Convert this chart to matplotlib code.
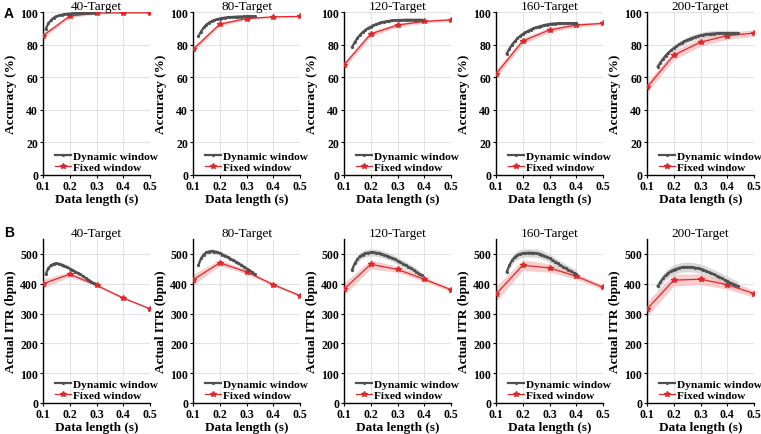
import numpy as np
import matplotlib
matplotlib.use("Agg")
import matplotlib.pyplot as plt

plt.rcParams['font.family'] = ['Liberation Serif', 'DejaVu Serif']

titles = ["40-Target", "80-Target", "120-Target", "160-Target", "200-Target"]
fixed_x = [0.1, 0.2, 0.3, 0.4, 0.5]

# Accuracy (%) - fixed window
acc_fixed_40 = [85.5, 97.5, 99.3, 99.5, 99.5]
acc_fixed_80 = [77.0, 92.5, 96.0, 97.0, 97.3]
acc_fixed_120 = [67.5, 86.5, 92.0, 94.2, 95.2]
acc_fixed_160 = [62.0, 82.2, 89.0, 92.0, 93.0]
acc_fixed_200 = [53.8, 73.5, 81.5, 85.5, 87.0]
acc_fixed_err = [[1.5, 1.0, 0.5, 0.4, 0.4], [1.8, 1.2, 0.8, 0.6, 0.6], [2.0, 1.8, 1.2, 1.0, 0.8],
                 [2.5, 2.0, 1.5, 1.2, 1.0], [3.0, 2.8, 2.5, 2.2, 2.0]]

# Accuracy (%) - dynamic window
dyn_start = [0.11, 0.12, 0.13, 0.14, 0.14]
acc_dyn_40 = [89.5, 93, 95, 96.5, 97.3, 97.9, 98.3, 98.6, 98.8, 99.0, 99.1, 99.2, 99.3, 99.35,
              99.4, 99.4, 99.45, 99.5, 99.5]
acc_dyn_80 = [85, 88, 90.5, 92.3, 93.5, 94.4, 95.1, 95.6, 96.0, 96.3, 96.6, 96.8, 96.9, 97.0,
              97.1, 97.2, 97.2, 97.3, 97.3, 97.3, 97.3, 97.3]
acc_dyn_120 = [78.5, 81.5, 84, 86, 87.7, 89, 90.1, 91, 91.8, 92.5, 93.1, 93.6, 94.0, 94.3, 94.6,
               94.8, 94.9, 95.0, 95.1, 95.1, 95.2, 95.2, 95.2, 95.2, 95.2, 95.2, 95.2]
acc_dyn_160 = [74.5, 77.5, 80, 82, 83.8, 85.3, 86.5, 87.5, 88.4, 89.2, 89.9, 90.5, 91.0, 91.5,
               91.9, 92.3, 92.6, 92.8, 92.9, 93.0, 93.0, 93.0, 93.0, 93.0, 93.0, 93.0, 93.0]
acc_dyn_200 = [66.5, 69, 71.3, 73.3, 75, 76.5, 77.8, 79, 80.1, 81.1, 82, 82.8, 83.5, 84.1, 84.7,
               85.2, 85.6, 86.0, 86.3, 86.5, 86.7, 86.8, 86.9, 87.0, 87.0, 87.0, 87.0, 87.0,
               87.0, 87.0, 87.0]
acc_dyn_err = [0.6, 0.8, 1.0, 1.2, 1.8]

# Actual ITR (bpm) - fixed window
itr_fixed_40 = [400, 432, 395, 352, 316]
itr_fixed_80 = [413, 470, 440, 397, 360]
itr_fixed_120 = [382, 465, 448, 415, 380]
itr_fixed_160 = [365, 462, 453, 425, 388]
itr_fixed_200 = [315, 412, 415, 397, 367]
itr_fixed_err = [[15, 8, 5, 4, 3], [18, 10, 7, 5, 4], [20, 15, 10, 8, 6],
                 [25, 18, 14, 10, 8], [25, 20, 18, 15, 12]]

# Actual ITR (bpm) - dynamic window
itr_dyn_40 = [432, 452, 462, 467, 468, 467, 464, 460, 456, 451, 446, 441, 436, 431, 425, 419,
              413, 407, 401]
itr_dyn_80 = [462, 485, 498, 505, 508, 509, 508, 506, 502, 498, 494, 489, 484, 479, 474, 468,
              463, 457, 451, 445, 439, 433]
itr_dyn_120 = [447, 468, 482, 492, 498, 502, 504, 505, 505, 504, 502, 500, 497, 494, 490, 486,
               482, 477, 472, 467, 462, 457, 452, 446, 440, 434, 428]
itr_dyn_160 = [440, 462, 478, 489, 496, 500, 502, 503, 504, 504, 503, 503, 501, 498, 494, 490,
               485, 480, 474, 468, 462, 457, 452, 447, 442, 437, 433]
itr_dyn_200 = [392, 405, 418, 428, 436, 442, 447, 450, 453, 455, 456, 456, 456, 455, 454, 452,
               450, 447, 443, 439, 435, 431, 427, 423, 418, 413, 409, 404, 400, 396, 392]
itr_dyn_err = [6, 8, 12, 14, 16]

acc_fixed = [acc_fixed_40, acc_fixed_80, acc_fixed_120, acc_fixed_160, acc_fixed_200]
acc_dyn = [acc_dyn_40, acc_dyn_80, acc_dyn_120, acc_dyn_160, acc_dyn_200]
itr_fixed = [itr_fixed_40, itr_fixed_80, itr_fixed_120, itr_fixed_160, itr_fixed_200]
itr_dyn = [itr_dyn_40, itr_dyn_80, itr_dyn_120, itr_dyn_160, itr_dyn_200]

W, H = 761, 435
fig = plt.figure(figsize=(W / 100, H / 100), dpi=100)

lefts = [43, 193, 344, 496, 647]
aw = 107
rows = [(13, 176), (240, 404)]

gray = '#505050'
red = '#e0282a'

def draw(ax, fx, fy, ferr, dx, dy, derr, ylim, yticks, ylabel, title):
    fx = np.array(fx); fy = np.array(fy); ferr = np.array(ferr)
    dx = np.array(dx); dy = np.array(dy)
    ax.fill_between(dx, dy - derr, dy + derr, color='#c8c8c8', alpha=0.7, lw=0, zorder=2)
    ax.fill_between(fx, fy - ferr, fy + ferr, color='#f4b8b8', alpha=0.7, lw=0, zorder=2)
    ax.plot(dx, dy, color=gray, lw=1.6, marker='.', ms=2.5, zorder=4, label='Dynamic window')
    ax.plot(fx, fy, color=red, lw=0.9, marker='*', ms=4, zorder=3, label='Fixed window')
    ax.set_xlim(0.1, 0.5)
    ax.set_ylim(*ylim)
    ax.set_xticks([0.1, 0.2, 0.3, 0.4, 0.5])
    ax.set_xticklabels(['0.1', '0.2', '0.3', '0.4', '0.5'])
    ax.set_yticks(yticks)
    ax.grid(True, color='#e3e3e3', lw=0.8)
    ax.set_axisbelow(True)
    for s in ['top', 'right']:
        ax.spines[s].set_visible(False)
    for s in ['left', 'bottom']:
        ax.spines[s].set_linewidth(1.0)
    ax.tick_params(axis='both', labelsize=8.5, length=2, width=0.8, pad=1.5)
    for lab in ax.get_xticklabels() + ax.get_yticklabels():
        lab.set_fontweight('bold')
    ax.set_xlabel('Data length (s)', fontsize=9.5, fontweight='bold', labelpad=1)
    ax.set_ylabel(ylabel, fontsize=9.5, fontweight='bold', labelpad=2)
    ax.set_title(title, fontsize=9.5, pad=2)
    ax.legend(loc='lower left', bbox_to_anchor=(0.04, -0.03), frameon=False,
              prop={'weight': 'bold', 'size': 8.2}, handlelength=1.4,
              handletextpad=0.15, borderpad=0.2, labelspacing=0.12)

for r, (top, bot) in enumerate(rows):
    for c in range(5):
        ax = fig.add_axes([lefts[c] / W, 1 - bot / H, aw / W, (bot - top) / H])
        if r == 0:
            dx = np.round(dyn_start[c] + 0.01 * np.arange(len(acc_dyn[c])), 3)
            draw(ax, fixed_x, acc_fixed[c], acc_fixed_err[c], dx, acc_dyn[c], acc_dyn_err[c],
                 (0, 100), [0, 20, 40, 60, 80, 100], 'Accuracy (%)', titles[c])
        else:
            dx = np.round(dyn_start[c] + 0.01 * np.arange(len(itr_dyn[c])), 3)
            draw(ax, fixed_x, itr_fixed[c], itr_fixed_err[c], dx, itr_dyn[c], itr_dyn_err[c],
                 (0, 550), [0, 100, 200, 300, 400, 500], 'Actual ITR (bpm)', titles[c])

fig.text(4 / W, 1 - 14 / H, 'A', fontsize=10, fontweight='bold', family='Liberation Sans', va='center')
fig.text(4 / W, 1 - 233 / H, 'B', fontsize=10, fontweight='bold', family='Liberation Sans', va='center')

fig.savefig('out.png', dpi=100)
